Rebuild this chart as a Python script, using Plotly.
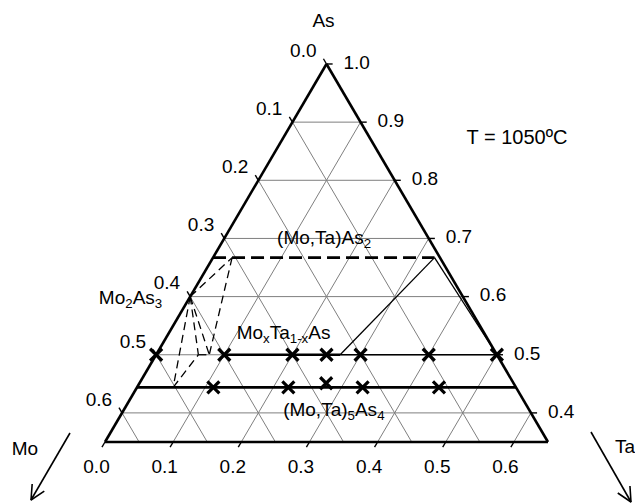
import math
import plotly.graph_objects as go

# ---------------- data (atomic fractions) ----------------
AS_MIN = 0.35                      # lower As limit of the displayed section

mo_ticks = [0.0, 0.1, 0.2, 0.3, 0.4, 0.5, 0.6]   # left edge (Mo)
ta_ticks = [0.0, 0.1, 0.2, 0.3, 0.4, 0.5, 0.6]   # bottom edge (Ta)
as_ticks = [1.0, 0.9, 0.8, 0.7, 0.6, 0.5, 0.4]   # right edge (As)
grid_steps = [0.1, 0.2, 0.3, 0.4, 0.5, 0.6]

# phase lines: As level and Ta extent
as2_as = 0.667
as2_ta = [0.0, 0.325]
mono_as = 0.5
mono_thick_ta = [0.1, 0.27]
mono_thin_ta = [0.27, 0.5]
m54_as = 0.444
m54_ta = [0.0, 0.556]

# samples (x markers)
mono_sample_ta = [0.0, 0.1, 0.2, 0.25, 0.3, 0.4, 0.5]
m54_sample_as = [0.444, 0.444, 0.451, 0.444, 0.444]
m54_sample_ta = [0.112, 0.222, 0.274, 0.331, 0.443]

# dashed tie lines (As, Ta at both ends)
tie_as = [[0.6, 0.667], [0.667, 0.5], [0.6, 0.5], [0.6, 0.5], [0.6, 0.444], [0.444, 0.5], [0.5, 0.5]]
tie_ta = [[0.0, 0.028], [0.028, 0.078], [0.0, 0.078], [0.0, 0.062], [0.0, 0.053], [0.053, 0.062], [0.062, 0.078]]

# thin solid boundaries
thin_as = [[0.667, 0.5], [0.667, 0.5]]
thin_ta = [[0.325, 0.27], [0.325, 0.5]]

# phase labels: (text, As, Ta, textposition)
phase_labels = [
    ("(Mo,Ta)As<sub>2</sub>", 0.699, 0.147, "middle center"),
    ("Mo<sub>x</sub>Ta<sub>1-x</sub>As", 0.536, 0.169, "middle center"),
    ("(Mo,Ta)<sub>5</sub>As<sub>4</sub>", 0.4035, 0.309, "middle center"),
    ("Mo<sub>2</sub>As<sub>3</sub>", 0.596, -0.039, "middle left"),
]

FONT = "Arial, Liberation Sans, sans-serif"
FS = 19

W, H = 635, 504
SQ = math.sqrt(3) / 2


def xy(As, Ta):
    """ternary composition (As top, Mo bottom-left, Ta bottom-right) -> plane"""
    return Ta + As / 2, As * SQ


fig = go.Figure()


def add_segments(pairs, width, dash="solid", color="black"):
    X, Y = [], []
    for (a0, t0), (a1, t1) in pairs:
        x0, y0 = xy(a0, t0)
        x1, y1 = xy(a1, t1)
        X += [x0, x1, None]
        Y += [y0, y1, None]
    fig.add_trace(go.Scatter(x=X, y=Y, mode="lines",
                             line=dict(color=color, width=width, dash=dash),
                             hoverinfo="skip", showlegend=False))


def add_text(X, Y, texts, pos="middle center", size=FS):
    fig.add_trace(go.Scatter(x=X, y=Y, mode="text", text=texts, textposition=pos,
                             textfont=dict(family=FONT, size=size, color="black"),
                             hoverinfo="skip", showlegend=False))


# ---------------- grid ----------------
grid = []
for k in grid_steps:
    a = 1 - k
    if a > AS_MIN:
        grid.append(((a, 0.0), (a, 1 - a)))                 # constant As
    grid.append(((1 - k, 0.0), (AS_MIN, 1 - AS_MIN - k)))   # constant Mo = k
    grid.append(((1 - k, k), (AS_MIN, k)))                  # constant Ta = k
add_segments(grid, 1, color="#7f7f7f")

# ---------------- phase diagram ----------------
add_segments([((a0, t0), (a1, t1)) for (a0, a1), (t0, t1) in zip(tie_as, tie_ta)], 1.3, dash="8px,5px")
add_segments([((a0, t0), (a1, t1)) for (a0, a1), (t0, t1) in zip(thin_as, thin_ta)], 1.3)
add_segments([((as2_as, as2_ta[0]), (as2_as, as2_ta[1]))], 2.7, dash="13px,6px")
add_segments([((mono_as, mono_thick_ta[0]), (mono_as, mono_thick_ta[1]))], 2.7)
add_segments([((mono_as, mono_thin_ta[0]), (mono_as, mono_thin_ta[1]))], 1.6)
add_segments([((m54_as, m54_ta[0]), (m54_as, m54_ta[1]))], 2.7)

# triangle outline
corners = [(1.0, 0.0), (AS_MIN, 0.0), (AS_MIN, 1 - AS_MIN)]
add_segments([(corners[i], corners[(i + 1) % 3]) for i in range(3)], 2.6)

# samples
sa = [mono_as] * len(mono_sample_ta) + m54_sample_as
st = mono_sample_ta + m54_sample_ta
pts = [xy(a, t) for a, t in zip(sa, st)]
fig.add_trace(go.Scatter(
    x=[p[0] for p in pts], y=[p[1] for p in pts], mode="markers",
    marker=dict(symbol="x-thin", size=12, line=dict(color="black", width=3.2), color="black"),
    hoverinfo="skip", showlegend=False))

# ---------------- ticks (outward along grid direction) ----------------
d = 0.009
ticks = []
for m in mo_ticks:
    ticks.append(((1 - m, 0.0), (1 - m + d, -d)))
for t in ta_ticks:
    ticks.append(((AS_MIN, t), (AS_MIN - d, t)))
for a in as_ticks:
    ticks.append(((a, 1 - a), (a, 1 - a + d)))
add_segments(ticks, 1.4)

# ---------------- tick labels ----------------
PXX, PXY = 681.5, 671.5          # pixels per plane unit (x, y)
# left (Mo): right end of text up-left of the edge point
lx = [xy(1 - m, 0.0)[0] - 10 / PXX for m in mo_ticks]
ly = [xy(1 - m, 0.0)[1] + 12 / PXY for m in mo_ticks]
add_text(lx, ly, [f"{m:.1f}" for m in mo_ticks], "middle left")
# right (As)
rx = [xy(a, 1 - a)[0] + 17 / PXX for a in as_ticks]
ry = [xy(a, 1 - a)[1] for a in as_ticks]
add_text(rx, ry, [f"{a:.1f}" for a in as_ticks], "middle right")
# bottom (Ta)
bx = [xy(AS_MIN, t)[0] - 8.5 / PXX for t in ta_ticks]
by = [xy(AS_MIN, t)[1] - 26 / PXY for t in ta_ticks]
add_text(bx, by, [f"{t:.1f}" for t in ta_ticks], "middle center")
# apex label
ax_, ay_ = xy(1.0, 0.0)
add_text([ax_ - 3 / PXX], [ay_ + 42 / PXY], ["As"])

# phase labels
for txt, a, t, pos in phase_labels:
    px, py = xy(a, t)
    add_text([px], [py], [txt], pos)

# ---------------- direction arrows & temperature ----------------
arrows = [((0.1236, 0.3165), (0.0664, 0.2167)),    # Mo: tail, tip (plane units)
          ((0.8881, 0.3180), (0.9468, 0.2137))]    # Ta
AX, AY = [], []
for (tx, ty), (hx, hy) in arrows:
    vx, vy = (tx - hx) * PXX, (ty - hy) * PXY
    L = math.hypot(vx, vy)
    ux, uy = vx / L, vy / L
    arms = []
    for s in (1, -1):
        r = math.radians(26 * s)
        ex = ux * math.cos(r) - uy * math.sin(r)
        ey = ux * math.sin(r) + uy * math.cos(r)
        arms.append((hx + 16 * ex / PXX, hy + 16 * ey / PXY))
    AX += [tx, hx, None, arms[0][0], hx, arms[1][0], None]
    AY += [ty, hy, None, arms[0][1], hy, arms[1][1], None]
fig.add_trace(go.Scatter(x=AX, y=AY, mode="lines", line=dict(color="black", width=1.6),
                         hoverinfo="skip", showlegend=False))

add_text([0.0576, 0.938], [0.2912, 0.2942], ["Mo", "Ta"])
add_text([0.7795], [0.7543], ["T = 1050ºC"], size=20)

# ---------------- layout ----------------
x0 = 0.5 - 326.5 / PXX
y_top = 0.8660 + 64 / PXY
fig.update_layout(
    width=W, height=H,
    margin=dict(l=0, r=0, t=0, b=0, pad=0),
    paper_bgcolor="white", plot_bgcolor="white",
    xaxis=dict(range=[x0, x0 + W / PXX], visible=False, fixedrange=True),
    yaxis=dict(range=[y_top - H / PXY, y_top], visible=False, fixedrange=True),
    font=dict(family=FONT, size=FS, color="black"),
)

fig.write_html("out.html")
